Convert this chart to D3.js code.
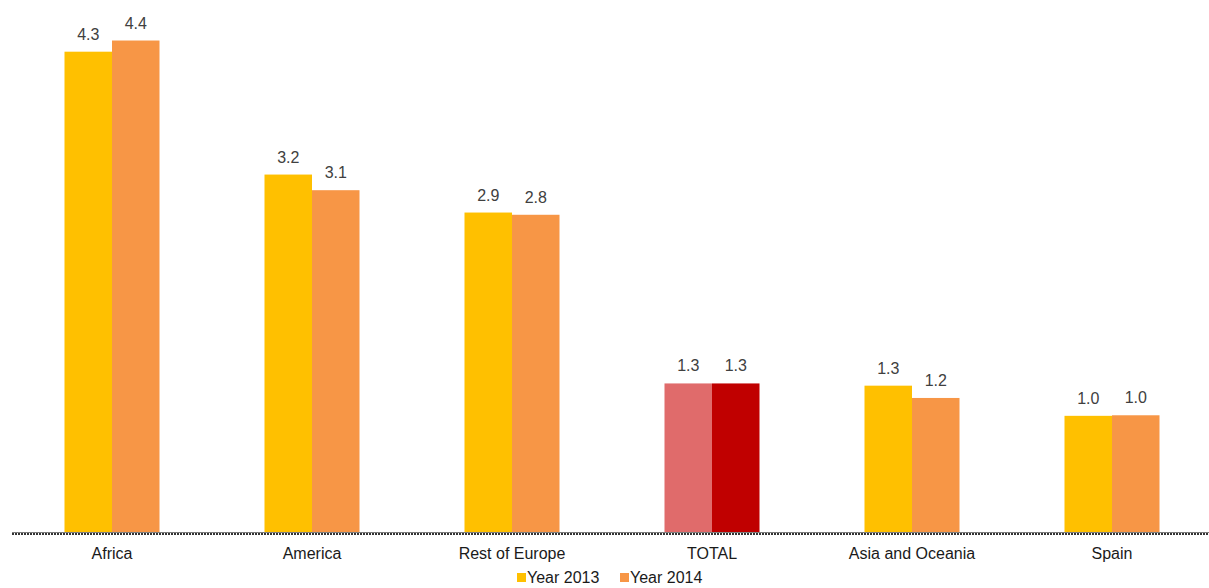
<!DOCTYPE html>
<html><head><meta charset="utf-8">
<script src="https://cdn.jsdelivr.net/npm/d3@7"></script>
<style>body{margin:0;background:#fff}svg{display:block}text{font-family:"Liberation Sans",Arial,sans-serif}</style>
</head><body>
<svg id="c" width="1209" height="588"></svg>
<script>
const categories = ["Africa","America","Rest of Europe","TOTAL","Asia and Oceania","Spain"];
const series = ["Year 2013","Year 2014"];
const values2013 = [4.3, 3.2, 2.86, 1.33, 1.31, 1.04];
const values2014 = [4.4, 3.06, 2.84, 1.33, 1.2, 1.045];
const colors = ["#FFC000","#F79646"];
const totalColors = ["#E06B6B","#C00000"];

const svg = d3.select("#c");
const base = 532;
const x = d3.scaleBand().domain(categories).range([12,1212]).paddingInner(0).paddingOuter(0);
const xs = d3.scaleBand().domain(series).range([0,95]);
const y = d3.scaleLinear().domain([0,4.5]).range([base, base-4.5*111.7]);

const data = [];
categories.forEach((c,i)=>{
  data.push({c, s:series[0], v:values2013[i], si:0});
  data.push({c, s:series[1], v:values2014[i], si:1});
});
const off = (x.bandwidth()-95)/2;
const g = svg.append("g");
g.selectAll("rect").data(data).join("rect")
  .attr("x", d=>x(d.c)+off+xs(d.s))
  .attr("width", xs.bandwidth())
  .attr("y", d=>y(d.v))
  .attr("height", d=>base-y(d.v))
  .attr("fill", d=> d.c==="TOTAL" ? totalColors[d.si] : colors[d.si]);
g.selectAll("text.v").data(data).join("text").attr("class","v")
  .attr("x", d=>x(d.c)+off+xs(d.s)+xs.bandwidth()/2)
  .attr("y", d=>y(d.v)-12)
  .attr("text-anchor","middle").attr("font-size",16).attr("fill","#404040")
  .text(d=>d3.format(".1f")(d.v));

// axis
const ax = svg.append("g").attr("transform",`translate(0,${base})`)
  .call(d3.axisBottom(x).tickSize(0).tickPadding(16));
ax.select(".domain").remove();
ax.selectAll("text").attr("font-size",16).attr("fill","#1a1a1a").attr("font-family",'"Liberation Sans",Arial,sans-serif');
svg.append("line").attr("x1",12).attr("x2",1209).attr("y1",base+0.5).attr("y2",base+0.5).attr("stroke","#7f7f7f").attr("stroke-width",1);
svg.append("line").attr("x1",12).attr("x2",1209).attr("y1",base+2).attr("y2",base+2).attr("stroke","#333").attr("stroke-width",2).attr("stroke-dasharray","2,1");

// legend
const leg = svg.append("g");
const lx = [517, 620];
series.forEach((s,i)=>{
  leg.append("rect").attr("x",lx[i]).attr("y",573).attr("width",9).attr("height",9).attr("fill",colors[i]);
  leg.append("text").attr("x",lx[i]+10).attr("y",583).attr("font-size",16).attr("fill","#1a1a1a").text(s);
});
</script>
</body></html>
